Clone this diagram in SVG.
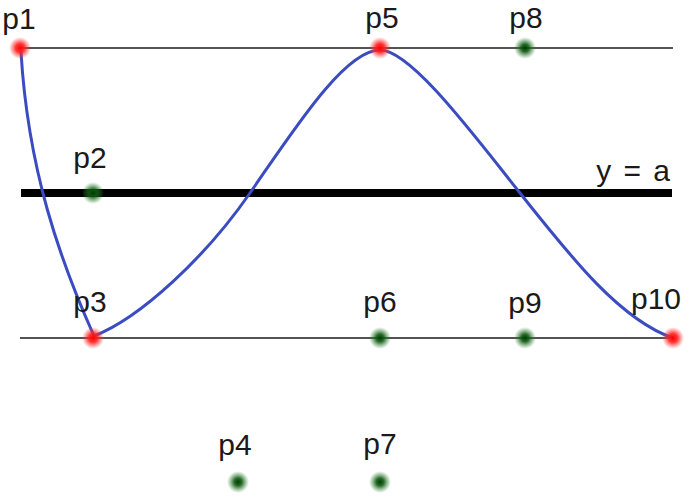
<svg xmlns="http://www.w3.org/2000/svg" width="689" height="496" viewBox="0 0 689 496">
<style>
.lbl{font-family:"Liberation Sans",Arial,sans-serif;font-size:30px;fill:#1a1a1a;text-anchor:middle}
.thin{stroke:#1a1a1a;stroke-width:1.5;fill:none}
.curve{stroke:#3a4cc0;stroke-width:3;fill:none;stroke-linecap:round;stroke-linejoin:round}
</style>
<defs>
<radialGradient id="gr">
<stop offset="0" stop-color="#ff0000"/>
<stop offset="0.4" stop-color="#ff2020" stop-opacity="0.9"/>
<stop offset="1" stop-color="#ff4040" stop-opacity="0"/>
</radialGradient>
<radialGradient id="gg">
<stop offset="0" stop-color="#003d00"/>
<stop offset="0.35" stop-color="#0f5a12" stop-opacity="0.9"/>
<stop offset="1" stop-color="#3a8a3a" stop-opacity="0"/>
</radialGradient>
</defs>
<g id="lines">
<line class="thin" x1="20" y1="48" x2="673" y2="48"/>
<line class="thin" x1="20" y1="338" x2="673" y2="338"/>
<line x1="21" y1="193" x2="672" y2="193" stroke="#000" stroke-width="8"/>
<text class="lbl" x="670" y="181" style="text-anchor:end;word-spacing:4px">y = a</text>
</g>
<g id="connectors">
<path class="curve" d="M21,52 C28,170 60,260 94,336 C140,318 205,258 250,193 C295,128 345,50 380,50 C410,50 470,130 520,193 C570,256 620,320 673,338"/>
</g>
<g id="p1"><circle cx="20" cy="48" r="11" fill="url(#gr)"/><text class="lbl" x="19" y="29">p1</text></g>
<g id="p2"><circle cx="93" cy="193" r="11" fill="url(#gg)"/><text class="lbl" x="90" y="168">p2</text></g>
<g id="p3"><circle cx="93" cy="338" r="11" fill="url(#gr)"/><text class="lbl" x="90" y="312">p3</text></g>
<g id="p4"><circle cx="238" cy="482" r="11" fill="url(#gg)"/><text class="lbl" x="235" y="455">p4</text></g>
<g id="p5"><circle cx="380" cy="48" r="11" fill="url(#gr)"/><text class="lbl" x="382" y="28">p5</text></g>
<g id="p6"><circle cx="380" cy="338" r="11" fill="url(#gg)"/><text class="lbl" x="380" y="312">p6</text></g>
<g id="p7"><circle cx="380" cy="482" r="11" fill="url(#gg)"/><text class="lbl" x="380" y="454">p7</text></g>
<g id="p8"><circle cx="525" cy="48" r="11" fill="url(#gg)"/><text class="lbl" x="526" y="28">p8</text></g>
<g id="p9"><circle cx="525" cy="338" r="11" fill="url(#gg)"/><text class="lbl" x="525" y="313">p9</text></g>
<g id="p10"><circle cx="673" cy="338" r="11" fill="url(#gr)"/><text class="lbl" x="656" y="309">p10</text></g>
</svg>
